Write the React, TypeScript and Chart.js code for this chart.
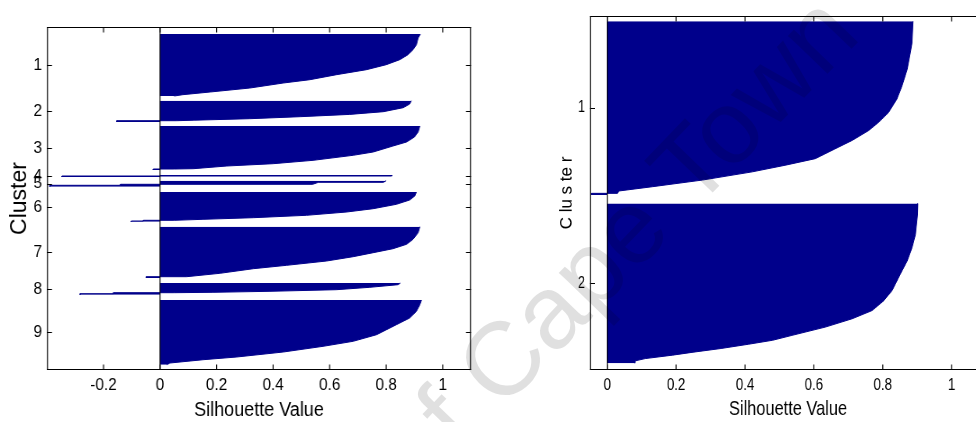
import React, { useEffect, useRef } from 'react';
import { Chart, registerables } from 'chart.js';

Chart.register(...registerables);

const NAVY = 'rgb(0,0,139)';
const FONT = "'Liberation Sans', Arial, Helvetica, sans-serif";

// ---------- Left panel: 9 clusters ----------
const leftXTicks = [-0.2, 0, 0.2, 0.4, 0.6, 0.8, 1];
const leftClusterLabels = ['1', '2', '3', '4', '5', '6', '7', '8', '9'];
const leftClusterStart = [7, 73.7, 99, 148, 153.7, 165, 199.7, 256, 273]; // row index where each cluster begins
const leftClusterSize = [62, 21.3, 44, 2, 6, 29.7, 51.3, 11.7, 64.7]; // rows per cluster
const leftRows = 343;

// [row offset inside cluster, silhouette value]
const L1: [number, number][] = [[0, 0.921], [4, 0.913], [10.7, 0.907], [15.7, 0.895], [20.7, 0.877], [25.7, 0.848], [30.7, 0.8], [35.7, 0.73], [40.7, 0.624], [45.7, 0.53], [49, 0.436], [54, 0.318], [58, 0.177], [60.7, 0.08], [62, 0.05]];
const L2: [number, number][] = [[0, 0.889], [3.3, 0.883], [7, 0.86], [11, 0.79], [13.7, 0.671], [16, 0.495], [18, 0.318], [19.5, 0.12], [20, 0.06], [20, -0.153], [21.3, -0.153]];
const L3: [number, number][] = [[0, 0.919], [6, 0.913], [11, 0.9], [16, 0.872], [20, 0.824], [26, 0.754], [29.3, 0.683], [34.3, 0.542], [37.7, 0.4], [40, 0.236], [42.7, 0.118], [43, 0.05], [43, -0.024], [44, -0.024]];
const L4: [number, number][] = [[0, 0.82], [1, 0.82], [1, -0.347], [2, -0.347]];
const L5: [number, number][] = [[0, 0.8], [1.6, 0.79], [1.6, 0.56], [3.6, 0.54], [3.6, -0.14], [4.6, -0.14], [4.6, -0.39], [6, -0.39]];
const L6: [number, number][] = [[0, 0.907], [4, 0.901], [8, 0.883], [12.3, 0.836], [16.7, 0.754], [20, 0.66], [23.3, 0.518], [25.7, 0.33], [27.3, 0.153], [28.3, 0.05], [28.3, -0.059], [29, -0.059], [29, -0.102], [29.7, -0.102]];
const L7: [number, number][] = [[0, 0.919], [6, 0.913], [12.6, 0.895], [17.6, 0.872], [22, 0.824], [26, 0.754], [30, 0.683], [34.3, 0.589], [38.6, 0.448], [42, 0.33], [46.6, 0.212], [50, 0.094], [50, -0.049], [51.3, -0.049]];
const L8: [number, number][] = [[0, 0.85], [1.7, 0.842], [4.3, 0.742], [6.7, 0.624], [8.3, 0.389], [9.3, 0.188], [9.7, 0.05], [9.7, -0.165], [10.7, -0.165], [10.7, -0.283], [11.7, -0.283]];
const L9: [number, number][] = [[0, 0.925], [4.7, 0.919], [11.3, 0.907], [18, 0.883], [24.7, 0.836], [34.7, 0.766], [41.3, 0.683], [46.3, 0.577], [52, 0.436], [57, 0.271], [59.7, 0.153], [63, 0.035], [64.7, 0.024]];
const leftProfiles = [L1, L2, L3, L4, L5, L6, L7, L8, L9];

// ---------- Right panel: 2 clusters ----------
const rightXTicks = [0, 0.2, 0.4, 0.6, 0.8, 1];
const rightClusterLabels = ['1', '2'];
const rightClusterStart = [5.3, 189.3];
const rightClusterSize = [175.3, 161.3];
const rightRows = 357.3;

const R1: [number, number][] = [[0, 0.888], [22, 0.885], [32, 0.88], [48.7, 0.871], [65.3, 0.856], [78.7, 0.841], [92, 0.817], [102, 0.788], [110.3, 0.759], [120.3, 0.711], [128.7, 0.662], [138.7, 0.604], [145.3, 0.517], [152, 0.421], [160.3, 0.276], [167, 0.131], [171.3, 0.034], [173.7, 0.03], [173.7, -0.046], [175.3, -0.046]];
const R2: [number, number][] = [[0, 0.902], [11.3, 0.901], [31.3, 0.895], [44.7, 0.885], [58, 0.871], [71.3, 0.851], [88, 0.827], [98, 0.803], [108, 0.769], [116.3, 0.711], [124.7, 0.633], [133, 0.537], [138, 0.48], [142, 0.41], [146.3, 0.33], [150, 0.25], [153, 0.19], [156.5, 0.11], [158.7, 0.082], [161.3, 0.08]];
const rightProfiles = [R1, R2];

// ---------- Watermark ----------
const WM_TEXT = 'University of Cape Town';
const WM_ANCHOR_WORD = 'Town';

interface PanelCfg {
  left: number; width: number; sx: number;
  yAxisWidth: number; padTop: number; padRight: number; xAxisHeight: number;
  xMin: number; xMax: number; xTicks: number[];
  rows: number; starts: number[]; sizes: number[]; labels: string[]; profiles: [number, number][][];
  xTickFont: number; yTickFont: number; xTitleFont: number; yTitleFont: number;
  yTitle: string; yTitleX: number; yTitleStretch: number; yTickPad: number; xTickPad: number;
}

const LEFT: PanelCfg = {
  left: 0, width: 567, sx: 0.9,
  yAxisWidth: 52.2, padTop: 27, padRight: 43.7, xAxisHeight: 52,
  xMin: -0.4, xMax: 1.1, xTicks: leftXTicks,
  rows: leftRows, starts: leftClusterStart, sizes: leftClusterSize, labels: leftClusterLabels, profiles: leftProfiles,
  xTickFont: 17, yTickFont: 17, xTitleFont: 20, yTitleFont: 23,
  yTitle: 'Cluster', yTitleX: 22.2, yTitleStretch: 1.0, yTickPad: 5.6, xTickPad: 5,
};

const RIGHT: PanelCfg = {
  left: 510, width: 625, sx: 0.78,
  yAxisWidth: 102.6, padTop: 12.7, padRight: 14.7, xAxisHeight: 52,
  xMin: -0.05, xMax: 1.1, xTicks: rightXTicks,
  rows: rightRows, starts: rightClusterStart, sizes: rightClusterSize, labels: rightClusterLabels, profiles: rightProfiles,
  xTickFont: 17, yTickFont: 16, xTitleFont: 21, yTitleFont: 17,
  yTitle: 'C lu s te r', yTitleX: 73, yTitleStretch: 1.05, yTickPad: 6.4, xTickPad: 5,
};

function Panel({ cfg }: { cfg: PanelCfg }) {
  const ref = useRef<HTMLCanvasElement>(null);
  useEffect(() => {
    const c = cfg;
    const centers = c.starts.map((s, i) => s + c.sizes[i] / 2);
    const datasets = c.profiles.map((prof, k) => ({
      data: prof.map(([off, v]) => ({ x: v, y: c.starts[k] + off })),
      fill: 'origin',
      backgroundColor: NAVY,
      borderColor: NAVY,
      borderWidth: 1,
      pointRadius: 0,
      pointHoverRadius: 0,
      tension: 0,
    }));
    const framePlugin = {
      id: 'frame',
      afterDatasetsDraw(chart: any) {
        const { ctx, chartArea: a } = chart;
        const xs = chart.scales.x;
        const ys = chart.scales.y;
        const lwV = 1 / c.sx;
        const top = Math.round(a.top) + 0.5;
        const bot = Math.round(a.bottom) - 0.5;
        ctx.save();
        ctx.strokeStyle = '#000';
        // zero baseline
        ctx.lineWidth = lwV;
        const x0 = xs.getPixelForValue(0);
        ctx.beginPath();
        ctx.moveTo(x0, a.top);
        ctx.lineTo(x0, a.bottom);
        ctx.stroke();
        // box + x ticks
        ctx.beginPath();
        ctx.moveTo(a.left + lwV / 2, a.top);
        ctx.lineTo(a.left + lwV / 2, a.bottom);
        ctx.moveTo(a.right - lwV / 2, a.top);
        ctx.lineTo(a.right - lwV / 2, a.bottom);
        for (const v of c.xTicks) {
          const px = xs.getPixelForValue(v);
          ctx.moveTo(px, bot);
          ctx.lineTo(px, bot - 5);
          ctx.moveTo(px, top);
          ctx.lineTo(px, top + 5);
        }
        ctx.stroke();
        ctx.lineWidth = 1;
        ctx.beginPath();
        ctx.moveTo(a.left, top);
        ctx.lineTo(a.right, top);
        ctx.moveTo(a.left, bot);
        ctx.lineTo(a.right, bot);
        for (const cy of centers) {
          const py = Math.round(ys.getPixelForValue(cy)) + 0.5;
          ctx.moveTo(a.left, py);
          ctx.lineTo(a.left + 5 / c.sx, py);
          ctx.moveTo(a.right, py);
          ctx.lineTo(a.right - 5 / c.sx, py);
        }
        ctx.stroke();
        ctx.restore();

        // y-axis title, drawn without the panel's horizontal squeeze
        ctx.save();
        ctx.translate(c.yTitleX, (a.top + a.bottom) / 2);
        ctx.scale(c.yTitleStretch / c.sx, 1);
        ctx.rotate(-Math.PI / 2);
        ctx.font = `${c.yTitleFont}px ${FONT}`;
        ctx.textAlign = 'center';
        ctx.textBaseline = 'middle';
        ctx.fillStyle = '#000';
        ctx.fillText(c.yTitle, 0, 0);
        ctx.restore();
      },
    };
    const chart = new Chart(ref.current as HTMLCanvasElement, {
      type: 'line',
      data: { datasets: datasets as any },
      options: {
        animation: false,
        responsive: false,
        devicePixelRatio: 1,
        indexAxis: 'y',
        events: [],
        layout: { padding: { top: c.padTop, right: c.padRight, bottom: 0, left: 0 } },
        plugins: { legend: { display: false }, tooltip: { enabled: false } },
        scales: {
          x: {
            type: 'linear',
            min: c.xMin,
            max: c.xMax,
            afterBuildTicks: (s: any) => { s.ticks = c.xTicks.map((v) => ({ value: v })); },
            afterFit: (s: any) => { s.height = c.xAxisHeight; },
            grid: { display: false, drawTicks: false },
            border: { display: false },
            ticks: {
              autoSkip: false,
              maxRotation: 0,
              padding: c.xTickPad,
              color: '#000',
              font: { family: FONT, size: c.xTickFont },
              callback: (v: any) => String(parseFloat(Number(v).toFixed(1))),
            },
            title: {
              display: true,
              text: 'Silhouette Value',
              color: '#000',
              font: { family: FONT, size: c.xTitleFont },
              padding: { top: 0, bottom: 0 },
            },
          },
          y: {
            type: 'linear',
            reverse: true,
            min: 0,
            max: c.rows,
            afterBuildTicks: (s: any) => { s.ticks = centers.map((v) => ({ value: v })); },
            afterFit: (s: any) => { s.width = c.yAxisWidth; },
            grid: { display: false, drawTicks: false },
            border: { display: false },
            ticks: {
              autoSkip: false,
              padding: c.yTickPad,
              color: '#000',
              font: { family: FONT, size: c.yTickFont },
              callback: (_v: any, i: number) => c.labels[i],
            },
            title: { display: false },
          },
        },
      } as any,
      plugins: [framePlugin],
    });
    return () => chart.destroy();
  }, [cfg]);
  return (
    <div
      style={{
        position: 'absolute',
        left: cfg.left,
        top: 0,
        width: cfg.width,
        height: 422,
        transform: `scaleX(${cfg.sx})`,
        transformOrigin: '0 0',
      }}
    >
      <canvas ref={ref} width={cfg.width} height={422} style={{ display: 'block', width: cfg.width, height: 422 }} />
    </div>
  );
}

function Watermark() {
  const ref = useRef<HTMLCanvasElement>(null);
  useEffect(() => {
    const cv = ref.current;
    if (!cv) return;
    const ctx = cv.getContext('2d');
    if (!ctx) return;
    ctx.clearRect(0, 0, 976, 422);
    const size = 104;
    const theta = (-46 * Math.PI) / 180;
    ctx.save();
    ctx.font = `${size}px ${FONT}`;
    const pre = ctx.measureText(WM_TEXT.slice(0, WM_TEXT.indexOf(WM_ANCHOR_WORD))).width;
    const d = [Math.cos(theta), Math.sin(theta)];
    // baseline start of the word "Town"
    const bx = 694;
    const by = 212;
    ctx.translate(bx - pre * d[0], by - pre * d[1]);
    ctx.rotate(theta);
    ctx.fillStyle = 'rgba(0,0,0,0.12)';
    ctx.textBaseline = 'alphabetic';
    ctx.fillText(WM_TEXT, 0, 0);
    ctx.restore();
  }, []);
  return (
    <canvas
      ref={ref}
      width={976}
      height={422}
      style={{ position: 'absolute', left: 0, top: 0, width: 976, height: 422, pointerEvents: 'none' }}
    />
  );
}

export default function App() {
  return (
    <div
      style={{
        position: 'fixed',
        left: 0,
        top: 0,
        width: 976,
        height: 422,
        overflow: 'hidden',
        background: '#fff',
      }}
    >
      <Panel cfg={LEFT} />
      <Panel cfg={RIGHT} />
      <Watermark />
    </div>
  );
}
